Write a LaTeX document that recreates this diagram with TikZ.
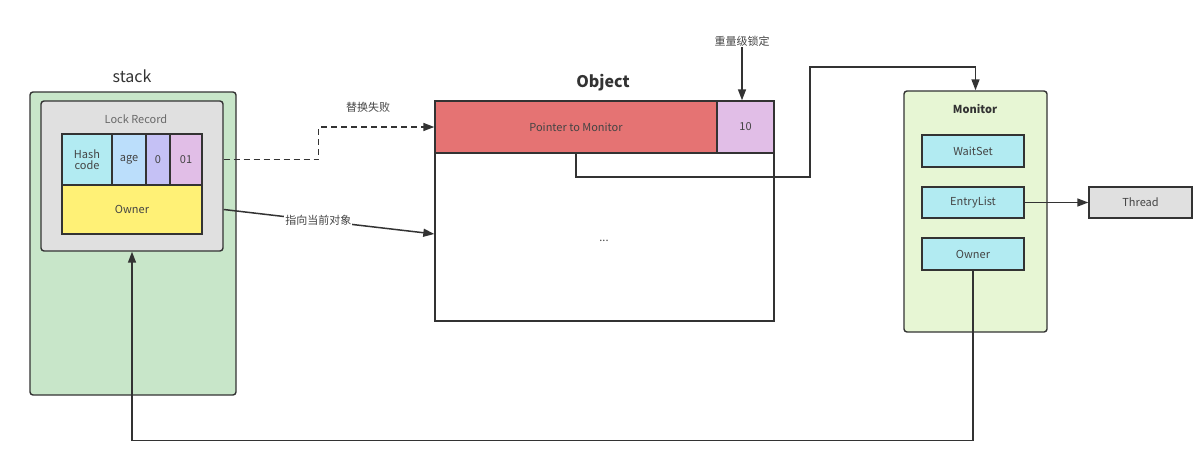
\documentclass[tikz,border=0pt]{standalone}
\usepackage{fontspec}
\setmainfont{Noto Sans CJK SC}
\usetikzlibrary{arrows.meta}
\definecolor{ln}{HTML}{333333}
\definecolor{tx}{HTML}{444444}
\definecolor{stackc}{HTML}{C8E6C9}
\definecolor{grayc}{HTML}{E0E0E0}
\definecolor{cyanc}{HTML}{B2EBF2}
\definecolor{bluec}{HTML}{BBDEFB}
\definecolor{lavc}{HTML}{C5C1F5}
\definecolor{purc}{HTML}{E1BEE7}
\definecolor{yelc}{HTML}{FFF176}
\definecolor{redc}{HTML}{E57373}
\definecolor{monc}{HTML}{E7F6D4}
\tikzset{
  bx/.style={draw=ln, line width=1.4pt, inner sep=0pt, text=tx,
    font=\fontsize{11}{13}\selectfont, align=center},
  rbx/.style={bx, rounded corners=3pt},
  lbl/.style={text=tx, font=\fontsize{11}{13}\selectfont, inner sep=1pt},
  conn/.style={draw=ln, line width=1.5pt},
  arr/.style={conn, -{Triangle[length=11pt,width=8pt]}},
}
\begin{document}
\begin{tikzpicture}[x=1pt,y=-1pt]
\useasboundingbox (0,0) rectangle (1201,463);
% stack
\node[text=ln, font=\fontsize{16}{18}\selectfont] (stacklbl) at (132,76) {stack};
\node[rbx, fill=stackc, minimum width=206pt, minimum height=303pt] (stack) at (133,243.5) {};
\node[rbx, fill=grayc, minimum width=182pt, minimum height=150pt] (lockrec) at (132,176) {};
\node[lbl, text=tx!80] (lrlbl) at (136,119) {Lock Record};
\node[bx, fill=cyanc, minimum width=50pt, minimum height=51pt] (hash) at (87,159.5) {Hash\\[-2pt]code};
\node[bx, fill=bluec, minimum width=34pt, minimum height=51pt] (age) at (129,159.5) {age};
\node[bx, fill=lavc, minimum width=24pt, minimum height=51pt] (zero) at (158,159.5) {0};
\node[bx, fill=purc, minimum width=32pt, minimum height=51pt] (zo) at (186,159.5) {01};
\node[bx, fill=yelc, minimum width=140pt, minimum height=49pt] (owner) at (132,209.5) {Owner};
% object
\node[text=ln, font=\fontsize{16}{18}\selectfont\bfseries] (objlbl) at (603,83) {Object};
\node[bx, fill=white, minimum width=339pt, minimum height=168pt] (body) at (604.5,237) {};
\node[lbl] (dots) at (604,241) {...};
\node[bx, fill=redc, minimum width=282pt, minimum height=52pt] (ptr) at (576,127) {Pointer to Monitor};
\node[bx, fill=purc, minimum width=57pt, minimum height=52pt] (ten) at (745.5,127) {10};
\node[lbl] (heavy) at (742,41) {重量级锁定};
% monitor
\node[rbx, fill=monc, minimum width=143pt, minimum height=241pt] (monitor) at (975.5,211.5) {};
\node[lbl, text=ln, font=\fontsize{11}{13}\selectfont\bfseries] (monlbl) at (975,109) {Monitor};
\node[bx, fill=cyanc, minimum width=102pt, minimum height=32pt] (waitset) at (973,151) {WaitSet};
\node[bx, fill=cyanc, minimum width=102pt, minimum height=31pt] (entry) at (973,202.5) {EntryList};
\node[bx, fill=cyanc, minimum width=102pt, minimum height=32pt] (mowner) at (973,254) {Owner};
\node[bx, fill=grayc, minimum width=103pt, minimum height=31pt] (thread) at (1140.5,202.5) {Thread};
% connectors
\draw[arr, dash pattern=on 6pt off 4pt] (lockrec.east |- zo.center) -- ++(95,0) |- (ptr.west);
\node[lbl] (failed) at (368,107) {替换失败};
\draw[arr] (lockrec.east |- owner.center) -- node[lbl, fill=white, pos=0.45] (cur) {指向当前对象} ([yshift=3pt]body.west);
\coordinate (k1) at (810,67);
\draw[arr] (ptr.south) |- (k1 |- 0,177) -- (k1) -| (monitor.north);
\draw[arr] (heavy.south) -- (heavy.south |- ten.north);
\draw[arr] (entry.east) -- (thread.west);
\draw[arr] (mowner.south) -- ++(0,170) -| (lockrec.south);
\end{tikzpicture}
\end{document}
